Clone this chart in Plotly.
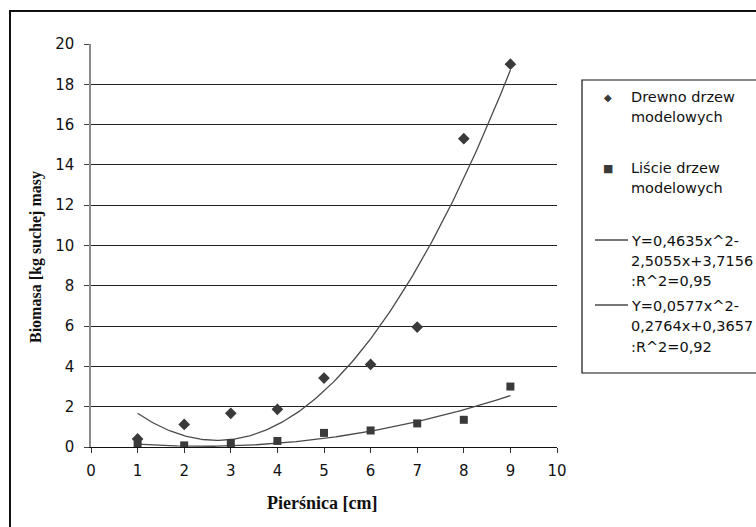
import numpy as np
import plotly.graph_objects as go

# ---- data ----
piersnica = [1, 2, 3, 4, 5, 6, 7, 8, 9]
drewno = [0.40, 1.12, 1.67, 1.87, 3.42, 4.10, 5.95, 15.30, 19.00]
liscie = [0.10, 0.08, 0.20, 0.30, 0.70, 0.82, 1.17, 1.35, 3.00]

# trend-line coefficients as printed in the legend (a, b, c for a*x^2 + b*x + c)
coef_drewno = [0.4635, -2.5055, 3.7156]
coef_liscie = [0.0577, -0.2764, 0.3657]

legend_lines_drewno = ["Drewno drzew", "modelowych"]
legend_lines_liscie = ["Liście drzew", "modelowych"]
legend_lines_trend1 = ["Y=0,4635x^2-", "2,5055x+3,7156", ":R^2=0,95"]
legend_lines_trend2 = ["Y=0,0577x^2-", "0,2764x+0,3657", ":R^2=0,92"]

x_title = "Pierśnica [cm]"
y_title = "Biomasa [kg suchej masy"

# ---- layout geometry (pixels) ----
W, H = 756, 527
L, R, T, B = 91, 557, 44, 447


def px(xp):
    return (xp - L) / (R - L)


def py(yp):
    return (B - yp) / (B - T)


xs = np.linspace(piersnica[0], piersnica[-1], 161)
trend1 = np.polyval(coef_drewno, xs)
trend2 = np.polyval(coef_liscie, xs)

fig = go.Figure()
fig.add_trace(go.Scatter(x=xs, y=trend1, mode="lines",
                         line=dict(color="#4a4a4a", width=1.3), hoverinfo="skip"))
fig.add_trace(go.Scatter(x=xs, y=trend2, mode="lines",
                         line=dict(color="#4a4a4a", width=1.3), hoverinfo="skip"))
fig.add_trace(go.Scatter(x=piersnica, y=drewno, mode="markers",
                         marker=dict(symbol="diamond", size=9, color="#3a3a3a")))
fig.add_trace(go.Scatter(x=piersnica, y=liscie, mode="markers",
                         marker=dict(symbol="square", size=8, color="#3a3a3a")))

tickfont = dict(family="DejaVu Sans", size=15, color="#111111")

fig.update_xaxes(range=[0, 10], dtick=1, tick0=0, showgrid=False, zeroline=False,
                 showline=True, linecolor="#111111", linewidth=1,
                 ticks="outside", ticklen=5, tickcolor="#333333",
                 tickfont=tickfont, ticklabelstandoff=5)
fig.update_yaxes(range=[0, 20], dtick=2, tick0=0, showgrid=True, gridcolor="#222222",
                 gridwidth=1, zeroline=False,
                 showline=True, linecolor="#8a8a8a", linewidth=1.5,
                 ticks="outside", ticklen=5, tickcolor="#444444",
                 tickfont=tickfont, ticklabelstandoff=7)

annotations = []
# axis titles
annotations.append(dict(text=f"<b>{x_title}</b>", x=px(322), y=py(503), xref="paper", yref="paper",
                        showarrow=False, xanchor="center", yanchor="middle",
                        font=dict(family="Liberation Serif", size=18, color="#111111")))
annotations.append(dict(text=f"<b>{y_title}</b>", x=px(36), y=py(257), xref="paper", yref="paper",
                        showarrow=False, xanchor="center", yanchor="middle", textangle=-90,
                        font=dict(family="Liberation Serif", size=16, color="#111111")))

# custom legend
leg_font = dict(family="DejaVu Sans", size=14.5, color="#111111")
text_x = 630
rows = [(legend_lines_drewno, [97, 117]),
        (legend_lines_liscie, [168, 188]),
        (legend_lines_trend1, [241, 261, 281]),
        (legend_lines_trend2, [306, 326, 347])]
for lines, ys in rows:
    for t, yy in zip(lines, ys):
        annotations.append(dict(text=t, x=px(text_x), y=py(yy), xref="paper", yref="paper",
                                showarrow=False, xanchor="left", yanchor="middle", font=leg_font,
                                borderpad=0))
annotations.append(dict(text="◆", x=px(608), y=py(97), xref="paper", yref="paper",
                        showarrow=False, xanchor="center", yanchor="middle",
                        font=dict(family="DejaVu Sans", size=10, color="#3a3a3a")))
annotations.append(dict(text="■", x=px(608), y=py(168), xref="paper", yref="paper",
                        showarrow=False, xanchor="center", yanchor="middle",
                        font=dict(family="DejaVu Sans", size=11, color="#3a3a3a")))

shapes = [
    # outer chart border
    dict(type="rect", xref="paper", yref="paper", x0=px(10), x1=px(770), y0=py(540), y1=py(11),
         line=dict(color="#111111", width=2), layer="below"),
    # legend box
    dict(type="rect", xref="paper", yref="paper", x0=px(582), x1=px(770), y0=py(373), y1=py(80),
         line=dict(color="#111111", width=1.2), layer="below"),
    # legend line samples
    dict(type="line", xref="paper", yref="paper", x0=px(595), x1=px(628), y0=py(240), y1=py(240),
         line=dict(color="#4a4a4a", width=1.3)),
    dict(type="line", xref="paper", yref="paper", x0=px(595), x1=px(628), y0=py(305), y1=py(305),
         line=dict(color="#4a4a4a", width=1.3)),
]

fig.update_layout(width=W, height=H, margin=dict(l=L, r=W - R, t=T, b=H - B),
                  paper_bgcolor="white", plot_bgcolor="white", showlegend=False,
                  annotations=annotations, shapes=shapes)

fig.write_html("out.html")
